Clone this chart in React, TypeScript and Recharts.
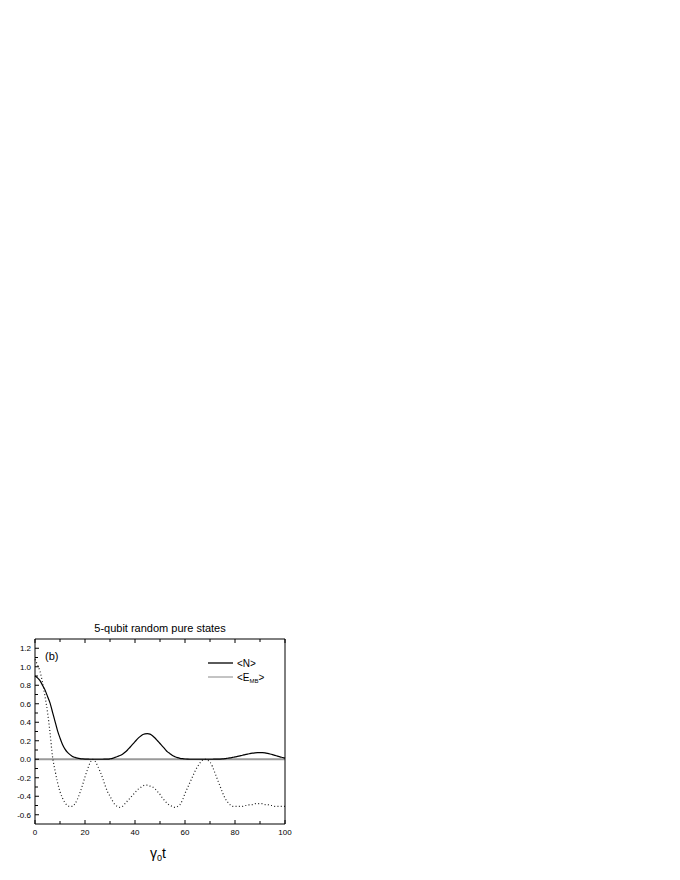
import React from 'react';
import { LineChart, Line, XAxis, YAxis, Legend } from 'recharts';

// time axis (gamma_0 t), step 1
const T: number[] = Array.from({ length: 101 }, (_, i) => i);

// <N> (solid black)
const N_VALUES = [
  0.90, 0.88, 0.85, 0.80, 0.75, 0.68, 0.61, 0.51, 0.41, 0.31,
  0.23, 0.16, 0.11, 0.075, 0.05, 0.03, 0.02, 0.012, 0.007, 0.004,
  0.002, 0.001, 0, 0, 0, 0, 0, 0, 0.001, 0.002,
  0.005, 0.01, 0.02, 0.03, 0.04, 0.055, 0.075, 0.10, 0.13, 0.16,
  0.19, 0.22, 0.245, 0.265, 0.275, 0.278, 0.272, 0.255, 0.23, 0.20,
  0.17, 0.14, 0.11, 0.08, 0.06, 0.04, 0.027, 0.017, 0.01, 0.006,
  0.003, 0.001, 0, 0, 0, 0, 0, 0, 0, 0,
  0, 0, 0.001, 0.001, 0.002, 0.004, 0.007, 0.011, 0.015, 0.02,
  0.025, 0.031, 0.037, 0.043, 0.05, 0.056, 0.061, 0.066, 0.069, 0.071,
  0.072, 0.071, 0.068, 0.063, 0.057, 0.05, 0.042, 0.034, 0.026, 0.019,
  0.012,
];

// dotted curve (unlabelled)
const DOTTED_VALUES = [
  1.08, 1.02, 0.95, 0.83, 0.68, 0.51, 0.29, 0.03, -0.12, -0.25,
  -0.35, -0.42, -0.47, -0.50, -0.51, -0.51, -0.48, -0.43, -0.36, -0.28,
  -0.19, -0.11, -0.04, 0.0, -0.02, -0.07, -0.13, -0.20, -0.28, -0.35,
  -0.40, -0.45, -0.49, -0.51, -0.52, -0.51, -0.48, -0.45, -0.42, -0.39,
  -0.36, -0.33, -0.31, -0.29, -0.28, -0.28, -0.29, -0.30, -0.32, -0.35,
  -0.38, -0.42, -0.45, -0.48, -0.50, -0.51, -0.52, -0.51, -0.49, -0.44,
  -0.37, -0.31, -0.25, -0.19, -0.13, -0.08, -0.04, -0.01, 0.0, -0.01,
  -0.03, -0.08, -0.15, -0.22, -0.29, -0.36, -0.42, -0.46, -0.49, -0.51,
  -0.51, -0.51, -0.51, -0.51, -0.50, -0.50, -0.49, -0.49, -0.48, -0.48,
  -0.48, -0.48, -0.49, -0.49, -0.50, -0.50, -0.51, -0.51, -0.51, -0.51,
  -0.51,
];

// <E_MB> (gray)
const EMB_T = [0, 100];
const EMB_VALUES = [0, 0];

const X_TICKS = [0, 10, 20, 30, 40, 50, 60, 70, 80, 90, 100];
const Y_TICKS = [-0.6, -0.5, -0.4, -0.3, -0.2, -0.1, 0, 0.1, 0.2, 0.3, 0.4, 0.5, 0.6, 0.7, 0.8, 0.9, 1.0, 1.1, 1.2];
const X_DOMAIN = [0, 100];
const Y_DOMAIN = [-0.7, 1.3];

const TITLE = '5-qubit random pure states';
const PANEL = '(b)';
const LEGEND_N = '<N>';

const data = T.map((t, i) => ({ t, n: N_VALUES[i], d: DOTTED_VALUES[i] }));
const embData = EMB_T.map((t, i) => ({ t, e: EMB_VALUES[i] }));

const FONT = '"Liberation Sans", Arial, Helvetica, sans-serif';
const W = 400;
const H = 860;
const MARGIN = { top: 630, right: 122, bottom: 43, left: 0 };
const YW = 27;

const isMajorX = (v: number) => v % 20 === 0;
const isMajorY = (v: number) => Math.round(v * 10) % 2 === 0;

function BottomTick(props: any) {
  const { x, y, payload } = props;
  const v = payload.value;
  const major = isMajorX(v);
  return (
    <g>
      <line x1={x} y1={y} x2={x} y2={y - (major ? 4 : 3)} stroke="#000" strokeWidth={1} />
      {major && (
        <text x={x} y={y + 11} textAnchor="middle" fontSize={8} fontFamily={FONT} fill="#000">
          {v}
        </text>
      )}
    </g>
  );
}

function TopTick(props: any) {
  const { x, y, payload } = props;
  const major = isMajorX(payload.value);
  return <line x1={x} y1={y} x2={x} y2={y + (major ? 4 : 3)} stroke="#000" strokeWidth={1} />;
}

function LeftTick(props: any) {
  const { x, y, payload } = props;
  const v = payload.value;
  const major = isMajorY(v);
  return (
    <g>
      <line x1={x} y1={y} x2={x + (major ? 4 : 3)} y2={y} stroke="#000" strokeWidth={1} />
      {major && (
        <text x={x - 4} y={y + 3} textAnchor="end" fontSize={8} fontFamily={FONT} fill="#000">
          {Number(v).toFixed(1)}
        </text>
      )}
    </g>
  );
}

function RightTick(props: any) {
  const { x, y, payload } = props;
  const major = isMajorY(payload.value);
  return <line x1={x} y1={y} x2={x - (major ? 4 : 3)} y2={y} stroke="#000" strokeWidth={1} />;
}

function TitleLabel(props: any) {
  const { x, y, width, height } = props.viewBox;
  return (
    <text x={x + width / 2} y={y + height - 7} textAnchor="middle" fontSize={11} fontFamily={FONT} fill="#000">
      {TITLE}
    </text>
  );
}

function XLabel(props: any) {
  const { x, y, width } = props.viewBox;
  return (
    <text x={x + width / 2 - 2} y={y + 34} textAnchor="middle" fontFamily={FONT} fill="#000">
      <tspan fontSize={14}>γ</tspan>
      <tspan fontSize={9} dy={3}>0</tspan>
      <tspan fontSize={14} dy={-3}>t</tspan>
    </text>
  );
}

function PanelLabel(props: any) {
  const { x, y, width } = props.viewBox;
  return (
    <text x={x + width + 10} y={y + 21} fontSize={11} fontFamily={FONT} fill="#000">
      {PANEL}
    </text>
  );
}

function LegendContent() {
  return (
    <svg width={70} height={30} style={{ display: 'block', overflow: 'visible' }}>
      <line x1={0} y1={7} x2={25} y2={7} stroke="#000" strokeWidth={1.3} />
      <text x={29} y={10.5} fontSize={10} fontFamily={FONT} fill="#000">
        {LEGEND_N}
      </text>
      <line x1={0} y1={21} x2={25} y2={21} stroke="#888" strokeWidth={1} />
      <text x={29} y={24.5} fontFamily={FONT} fill="#000">
        <tspan fontSize={10}>{'<E'}</tspan>
        <tspan fontSize={6} dy={2.5}>MB</tspan>
        <tspan fontSize={10} dy={-2.5}>{'>'}</tspan>
      </text>
    </svg>
  );
}

export default function App() {
  return (
    <LineChart width={W} height={H} data={data} margin={MARGIN}>
      <XAxis
        xAxisId="b"
        dataKey="t"
        type="number"
        domain={X_DOMAIN}
        ticks={X_TICKS}
        interval={0}
        tickSize={0}
        tickMargin={0}
        tick={<BottomTick />}
        tickLine={false}
        height={1}
        axisLine={{ stroke: '#000', strokeWidth: 1 }}
        label={<XLabel />}
      />
      <XAxis
        xAxisId="tp"
        orientation="top"
        dataKey="t"
        type="number"
        domain={X_DOMAIN}
        ticks={X_TICKS}
        interval={0}
        tickSize={0}
        tickMargin={0}
        tick={<TopTick />}
        tickLine={false}
        height={1}
        axisLine={{ stroke: '#000', strokeWidth: 1 }}
        label={<TitleLabel />}
      />
      <YAxis
        yAxisId="l"
        type="number"
        domain={Y_DOMAIN}
        ticks={Y_TICKS}
        interval={0}
        tickSize={0}
        tickMargin={0}
        tick={<LeftTick />}
        tickLine={false}
        width={YW}
        axisLine={{ stroke: '#000', strokeWidth: 1 }}
        label={<PanelLabel />}
      />
      <YAxis
        yAxisId="r"
        orientation="right"
        type="number"
        domain={Y_DOMAIN}
        ticks={Y_TICKS}
        interval={0}
        tickSize={0}
        tickMargin={0}
        tick={<RightTick />}
        tickLine={false}
        width={1}
        axisLine={{ stroke: '#000', strokeWidth: 1 }}
      />
      <Legend
        layout="vertical"
        align="center"
        verticalAlign="middle"
        content={<LegendContent />}
        wrapperStyle={{ position: 'absolute', left: 200, top: 648, width: 70, height: 30 }}
      />
      <Line
        xAxisId="b"
        yAxisId="l"
        data={embData}
        dataKey="e"
        name="<E_MB>"
        stroke="#9a9a9a"
        strokeWidth={1.8}
        dot={false}
        isAnimationActive={false}
        type="linear"
      />
      <Line
        xAxisId="b"
        yAxisId="l"
        dataKey="d"
        name="dotted"
        legendType="none"
        stroke="#222"
        strokeWidth={1.2}
        strokeDasharray="1 2.3"
        dot={false}
        isAnimationActive={false}
        type="monotone"
      />
      <Line
        xAxisId="b"
        yAxisId="l"
        dataKey="n"
        name="<N>"
        stroke="#000"
        strokeWidth={1.2}
        dot={false}
        isAnimationActive={false}
        type="monotone"
      />
    </LineChart>
  );
}
